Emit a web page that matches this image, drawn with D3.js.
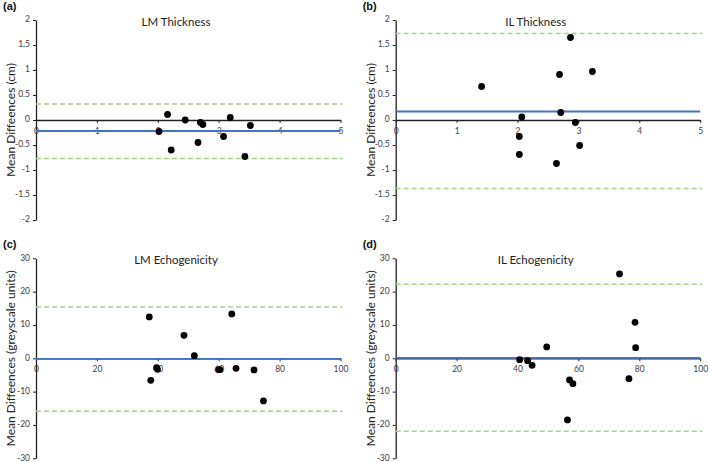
<!DOCTYPE html>
<html>
<head>
<meta charset="utf-8">
<script src="https://cdn.jsdelivr.net/npm/d3@7"></script>
<style>
  body { margin: 0; background: #fff; }
  text { font-family: Lato, "Open Sans", sans-serif; }
</style>
</head>
<body>
<svg id="chart" width="709" height="462"></svg>
<script>
// (a) LM thickness
const lmThickX = [2.02, 2.16, 2.22, 2.45, 2.66, 2.70, 2.74, 3.08, 3.19, 3.43, 3.52];
const lmThickY = [-0.23, 0.11, -0.60, 0.00, -0.45, -0.05, -0.09, -0.33, 0.05, -0.73, -0.11];
// (b) IL thickness
const ilThickX = [1.41, 2.07, 2.03, 2.03, 2.64, 2.69, 2.71, 2.87, 2.95, 3.02, 3.23];
const ilThickY = [0.67, 0.06, -0.33, -0.69, -0.87, 0.91, 0.15, 1.65, -0.05, -0.51, 0.97];
// (c) LM echogenicity
const lmEchoX = [37.2, 37.7, 39.6, 39.9, 48.6, 52.0, 60.0, 60.4, 64.3, 65.7, 71.6, 74.7];
const lmEchoY = [12.4, -6.6, -2.8, -3.3, 6.9, 0.8, -3.4, -3.4, 13.3, -3.0, -3.5, -12.8];
// (d) IL echogenicity
const ilEchoX = [40.7, 43.3, 44.8, 49.6, 56.4, 57.1, 58.2, 73.5, 76.6, 78.6, 78.8];
const ilEchoY = [-0.4, -0.7, -2.1, 3.4, -18.5, -6.5, -7.6, 25.3, -6.1, 10.8, 3.2];

// mean difference and limits of agreement: a, b, c, d
const meanDiff = [-0.22, 0.17, -0.2, 0.1];
const upperLoA = [0.32, 1.73, 15.4, 22.2];
const lowerLoA = [-0.77, -1.37, -15.9, -21.9];

const titles = ['LM Thickness', 'IL Thickness', 'LM Echogenicity', 'IL Echogenicity'];
const letters = ['(a)', '(b)', '(c)', '(d)'];
const yTitles = ['Mean Diffeences (cm)', 'Mean Diffeences (cm)',
                 'Mean Diffeences (greyscale units)', 'Mean Diffeences (greyscale units)'];

const thickXTicks = [0, 1, 2, 3, 4, 5];
const thickYTicks = [-2, -1.5, -1, -0.5, 0, 0.5, 1, 1.5, 2];
const echoXTicks = [0, 20, 40, 60, 80, 100];
const echoYTicks = [-30, -20, -10, 0, 10, 20, 30];

const panels = [
  { xs: lmThickX, ys: lmThickY, xTicks: thickXTicks, yTicks: thickYTicks, left: 36, top: 20 },
  { xs: ilThickX, ys: ilThickY, xTicks: thickXTicks, yTicks: thickYTicks, left: 395.7, top: 20 },
  { xs: lmEchoX, ys: lmEchoY, xTicks: echoXTicks, yTicks: echoYTicks, left: 36, top: 258.3 },
  { xs: ilEchoX, ys: ilEchoY, xTicks: echoXTicks, yTicks: echoYTicks, left: 395.7, top: 258.3 }
];

const plotW = 304.5, plotH = 200;
const fmt = d => String(d);
const svg = d3.select('#chart');
svg.append('rect').attr('width', 709).attr('height', 462).attr('fill', '#fff');

panels.forEach((p, i) => {
  const g = svg.append('g').attr('transform', `translate(${p.left},${p.top})`);
  const x = d3.scaleLinear().domain(d3.extent(p.xTicks)).range([0, plotW]);
  const y = d3.scaleLinear().domain(d3.extent(p.yTicks)).range([plotH, 0]);

  // y axis
  const ya = g.append('g')
    .call(d3.axisLeft(y).tickValues(p.yTicks).tickFormat(fmt)
      .tickSize(3).tickSizeOuter(0).tickPadding(3));
  ya.selectAll('.tick text').attr('dy', '0.2em');
  // x axis through zero
  const xa = g.append('g').attr('transform', `translate(0,${y(0)})`)
    .call(d3.axisBottom(x).tickValues(p.xTicks).tickFormat(fmt)
      .tickSize(3).tickSizeOuter(0).tickPadding(5));
  [ya, xa].forEach(a => {
    a.select('.domain').attr('stroke', '#222').attr('stroke-width', 1.3);
    a.selectAll('.tick line').attr('stroke', '#222');
    a.selectAll('.tick text').attr('fill', '#404040').style('font-size', '8.5px')
      .style('font-family', 'Lato, sans-serif');
  });

  // limits of agreement
  [upperLoA[i], lowerLoA[i]].forEach(v => {
    g.append('line').attr('x1', 0).attr('x2', plotW + 2)
      .attr('y1', y(v)).attr('y2', y(v))
      .attr('stroke', '#a9d18e').attr('stroke-width', 1.4).attr('stroke-dasharray', '5,3');
  });
  // mean difference
  g.append('line').attr('x1', 0).attr('x2', plotW)
    .attr('y1', y(meanDiff[i])).attr('y2', y(meanDiff[i]))
    .attr('stroke', '#4472c4').attr('stroke-width', 1.8);

  // points
  g.selectAll('circle.pt').data(p.xs.map((d, k) => [d, p.ys[k]])).enter()
    .append('circle').attr('class', 'pt')
    .attr('cx', d => x(d[0])).attr('cy', d => y(d[1])).attr('r', 3.4)
    .attr('fill', '#000');

  // titles
  g.append('text').attr('x', 140).attr('y', 6).attr('text-anchor', 'middle')
    .style('font-size', '11.5px').attr('fill', '#222').text(titles[i]);
  g.append('text').attr('transform', `translate(${-21},${plotH / 2}) rotate(-90)`)
    .attr('text-anchor', 'middle').style('font-size', '12px').attr('fill', '#222')
    .text(yTitles[i]);
  g.append('text').attr('x', -33).attr('y', -10)
    .style('font-size', '11px').style('font-weight', 'bold')
    .style('font-family', 'Arial, "Liberation Sans", sans-serif').attr('fill', '#111')
    .text(letters[i]);
});
</script>
</body>
</html>
